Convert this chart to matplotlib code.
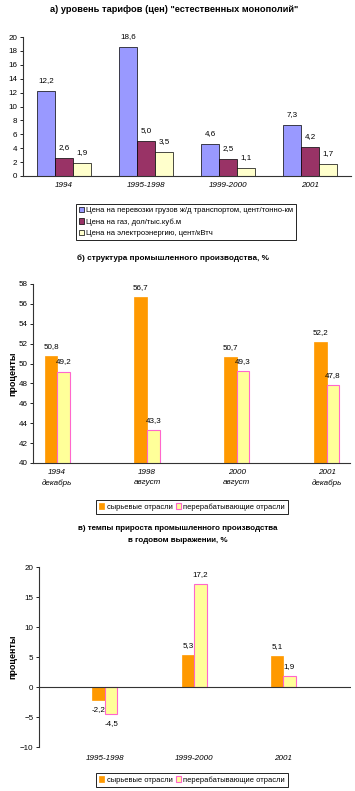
import matplotlib
matplotlib.use("Agg")
import matplotlib.pyplot as plt
import numpy as np

# a) tariffs of natural monopolies
periods_a = ["1994", "1995-1998", "1999-2000", "2001"]
rail = [12.2, 18.6, 4.6, 7.3]
gas = [2.6, 5.0, 2.5, 4.2]
power = [1.9, 3.5, 1.1, 1.7]
labels_a = ["Цена на перевозки грузов ж/д транспортом, цент/тонно-км",
            "Цена на газ, дол/тыс.куб.м",
            "Цена на электроэнергию, цент/кВтч"]

# b) structure of industrial production
periods_b = ["1994\nдекабрь", "1998\nавгуст", "2000\nавгуст", "2001\nдекабрь"]
raw_b = [50.8, 56.7, 50.7, 52.2]
proc_b = [49.2, 43.3, 49.3, 47.8]

# c) growth rates
periods_c = ["1995-1998", "1999-2000", "2001"]
raw_c = [-2.2, 5.3, 5.1]
proc_c = [-4.5, 17.2, 1.9]

labels_bc = ["сырьевые отрасли", "перерабатывающие отрасли"]

plt.rcParams['font.family'] = ['Liberation Sans', 'DejaVu Sans']
fs = 5.8


def fmt(v):
    return ("%.1f" % v).replace(".", ",")


def style_axis(ax):
    for s in ["top", "right"]:
        ax.spines[s].set_visible(False)
    for s in ["left", "bottom"]:
        ax.spines[s].set_linewidth(0.8)
        ax.spines[s].set_color("#333333")
    ax.tick_params(axis="y", labelsize=fs, length=2, width=0.6, pad=2)
    ax.tick_params(axis="x", length=0, pad=4)


def put_labels(ax, bars, vals, off):
    for b, v in zip(bars, vals):
        x = b.get_x() + b.get_width() / 2
        if v >= 0:
            ax.text(x, v + off, fmt(v), ha="center", va="bottom", fontsize=fs)
        else:
            ax.text(x, v - off, fmt(v), ha="center", va="top", fontsize=fs)


def add_legend(ax, cx, cy, ncol, size):
    leg = ax.legend(loc="center", bbox_to_anchor=(cx / W, 1 - cy / H), bbox_transform=fig.transFigure,
                    ncol=ncol, fontsize=size, frameon=True, fancybox=False, edgecolor="black",
                    framealpha=1, handlelength=0.7, handleheight=0.7, handletextpad=0.3,
                    borderpad=0.4, labelspacing=0.5, columnspacing=0.4, borderaxespad=0)
    leg.get_frame().set_linewidth(0.6)


W, H = 355, 791
fig = plt.figure(figsize=(W / 100, H / 100), dpi=100)


def box(l, r, t, b):
    return [l / W, 1 - b / H, (r - l) / W, (b - t) / H]


# ---- chart a
ax1 = fig.add_axes(box(23, 351, 37, 176))
x = np.arange(len(periods_a))
w = 0.22
b1 = ax1.bar(x - w, rail, w, color="#9999FF", edgecolor="black", linewidth=0.5, label=labels_a[0])
b2 = ax1.bar(x, gas, w, color="#993366", edgecolor="black", linewidth=0.5, label=labels_a[1])
b3 = ax1.bar(x + w, power, w, color="#FFFFCC", edgecolor="black", linewidth=0.5, label=labels_a[2])
for bars, vals in [(b1, rail), (b2, gas), (b3, power)]:
    put_labels(ax1, bars, vals, 1.0)
ax1.set_ylim(0, 20)
ax1.set_yticks(np.arange(0, 21, 2))
ax1.set_xlim(-0.5, 3.5)
ax1.set_xticks(x)
ax1.set_xticklabels(periods_a, fontsize=fs, style="italic")
style_axis(ax1)
add_legend(ax1, 186, 222, 1, 5.5)
fig.text(174 / W, 1 - 10 / H, 'а) уровень тарифов (цен) "естественных монополий"',
         ha="center", va="center", fontsize=6.7, fontweight="bold")

# ---- chart b
ax2 = fig.add_axes(box(33, 350, 284, 463))
x = np.arange(len(periods_b))
w = 0.14
c1 = ax2.bar(x - w / 2, raw_b, w, color="#FF9900", edgecolor="#FF9900", linewidth=0.5, label=labels_bc[0])
c2 = ax2.bar(x + w / 2, proc_b, w, color="#FFFF99", edgecolor="#FF66CC", linewidth=0.8, label=labels_bc[1])
put_labels(ax2, c1, raw_b, 0.6)
put_labels(ax2, c2, proc_b, 0.6)
ax2.set_ylim(40, 58)
ax2.set_yticks(np.arange(40, 59, 2))
ax2.set_xlim(-0.27, 3.26)
ax2.set_xticks(x)
ax2.set_xticklabels(periods_b, fontsize=fs, style="italic", linespacing=1.6)
style_axis(ax2)
ax2.set_ylabel("проценты", fontsize=6.5, fontweight="bold")
ax2.yaxis.set_label_coords(-16 / 317, 0.5)
add_legend(ax2, 192, 507, 2, 5.4)
fig.text(173 / W, 1 - 258 / H, "б) структура промышленного производства, %",
         ha="center", va="center", fontsize=5.9, fontweight="bold")

# ---- chart c
ax3 = fig.add_axes(box(39, 351, 567, 747))
x = np.arange(len(periods_c))
d1 = ax3.bar(x - w / 2, raw_c, w, color="#FF9900", edgecolor="#FF9900", linewidth=0.5, label=labels_bc[0])
d2 = ax3.bar(x + w / 2, proc_c, w, color="#FFFF99", edgecolor="#FF66CC", linewidth=0.8, label=labels_bc[1])
put_labels(ax3, d1, raw_c, 1.0)
put_labels(ax3, d2, proc_c, 1.0)
ax3.set_ylim(-10, 20)
ax3.set_yticks(np.arange(-10, 21, 5))
ax3.set_xlim(-0.74, 2.76)
ax3.set_xticks(x)
ax3.set_xticklabels(periods_c, fontsize=fs, style="italic")
style_axis(ax3)
ax3.spines["bottom"].set_visible(False)
ax3.axhline(0, color="#333333", linewidth=0.8)
ax3.tick_params(axis="x", pad=6)
ax3.set_ylabel("проценты", fontsize=6.5, fontweight="bold")
ax3.yaxis.set_label_coords(-22 / 312, 0.5)
add_legend(ax3, 192, 780, 2, 5.4)
fig.text(178 / W, 1 - 529 / H, "в) темпы прироста промышленного производства",
         ha="center", va="center", fontsize=5.8, fontweight="bold")
fig.text(178 / W, 1 - 540 / H, "в годовом выражении, %",
         ha="center", va="center", fontsize=5.8, fontweight="bold")

fig.savefig("out.png", dpi=100)
